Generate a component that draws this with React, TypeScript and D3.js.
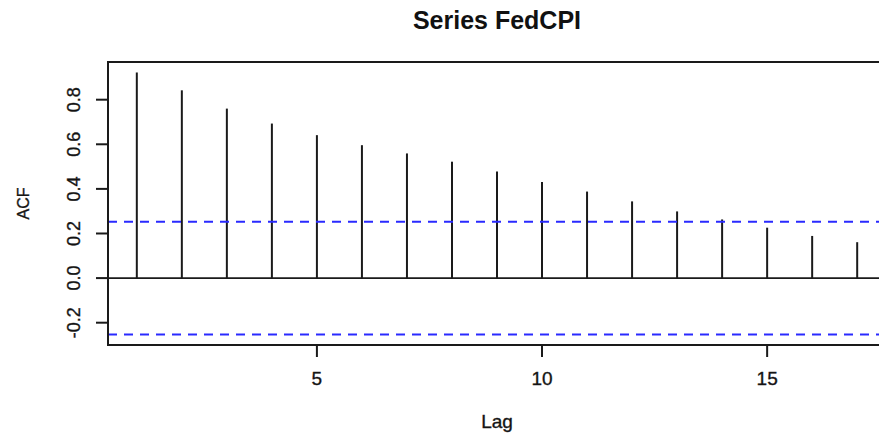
import React from "react";
import * as d3 from "d3";

// Autocorrelation of the FedCPI series, lags 1..17
const lags = [1, 2, 3, 4, 5, 6, 7, 8, 9, 10, 11, 12, 13, 14, 15, 16, 17];
const acfValues = [
  0.922, 0.842, 0.76, 0.693, 0.641, 0.596, 0.559, 0.522, 0.478, 0.431, 0.388,
  0.344, 0.299, 0.263, 0.226, 0.189, 0.161,
];
const seriesLength = 60;
const xTicks = [5, 10, 15];
const yTicks = [-0.2, 0, 0.2, 0.4, 0.6, 0.8];
const titleText = "Series FedCPI";
const xLabel = "Lag";
const yLabel = "ACF";

const W = 879;
const H = 436;
const FONT = "'Liberation Sans', Arial, Helvetica, sans-serif";

export default function App() {
  // 95% confidence band for white noise
  const ci = 1.96 / Math.sqrt(seriesLength);

  // R-style 4% range extension
  const ext = (lo: number, hi: number): [number, number] => {
    const d = (hi - lo) * 0.04;
    return [lo - d, hi + d];
  };
  const xDom = ext(d3.min(lags)!, d3.max(lags)!);
  const yDom = ext(
    Math.min(-ci, d3.min(acfValues)!),
    Math.max(ci, d3.max(acfValues)!)
  );

  const left = 108;
  const right = 886;
  const top = 62;
  const bottom = 345;

  const x = d3.scaleLinear().domain(xDom).range([left, right]);
  const y = d3.scaleLinear().domain(yDom).range([bottom, top]);

  const ink = "#1a1a1a";
  const tickLen = 12;
  // R prints negative ticks with a plain hyphen
  const fmt = (v: number) => d3.format(".1f")(v).replace("\u2212", "-");

  const textStyle = { stroke: "#222", strokeWidth: 0.35 };

  return (
    <svg
      width={W}
      height={H}
      style={{ position: "absolute", left: 0, top: 0, background: "#fff" }}
      fontFamily={FONT}
    >
      <rect x={0} y={0} width={W} height={H} fill="#fff" />

      {/* title */}
      <text
        x={(left + right) / 2}
        y={29}
        textAnchor="middle"
        fontSize={25}
        fontWeight="bold"
        fill="#111"
      >
        {titleText}
      </text>

      {/* zero line */}
      <line x1={left} x2={right} y1={y(0)} y2={y(0)} stroke={ink} strokeWidth={1.8} />

      {/* acf spikes */}
      {lags.map((lag, i) => (
        <line
          key={lag}
          x1={x(lag)}
          x2={x(lag)}
          y1={y(0)}
          y2={y(acfValues[i])}
          stroke={ink}
          strokeWidth={2}
        />
      ))}

      {/* confidence bounds */}
      {[ci, -ci].map((v) => (
        <line
          key={v}
          x1={left}
          x2={right}
          y1={y(v)}
          y2={y(v)}
          stroke="#2a2aff"
          strokeWidth={2}
          strokeDasharray="9,7"
        />
      ))}

      {/* plot box */}
      <rect
        x={left}
        y={top}
        width={right - left}
        height={bottom - top}
        fill="none"
        stroke={ink}
        strokeWidth={2}
      />

      {/* x axis */}
      {xTicks.map((t) => (
        <g key={t}>
          <line x1={x(t)} x2={x(t)} y1={bottom} y2={bottom + tickLen} stroke={ink} strokeWidth={2} />
          <text x={x(t)} y={385} textAnchor="middle" fontSize={19} fill="#111" style={textStyle}>
            {t}
          </text>
        </g>
      ))}

      {/* y axis */}
      {yTicks.map((t) => (
        <g key={t}>
          <line x1={left - tickLen} x2={left} y1={y(t)} y2={y(t)} stroke={ink} strokeWidth={2} />
          <text
            transform={`translate(80,${y(t)}) rotate(-90)`}
            textAnchor="middle"
            fontSize={18}
            fill="#111"
            style={textStyle}
          >
            {fmt(t)}
          </text>
        </g>
      ))}

      {/* axis titles */}
      <text
        x={(left + right) / 2}
        y={428}
        textAnchor="middle"
        fontSize={19}
        fill="#111"
        style={textStyle}
      >
        {xLabel}
      </text>
      <text
        transform={`translate(29,${(top + bottom) / 2}) rotate(-90)`}
        textAnchor="middle"
        fontSize={16}
        fill="#111"
        style={textStyle}
      >
        {yLabel}
      </text>
    </svg>
  );
}
